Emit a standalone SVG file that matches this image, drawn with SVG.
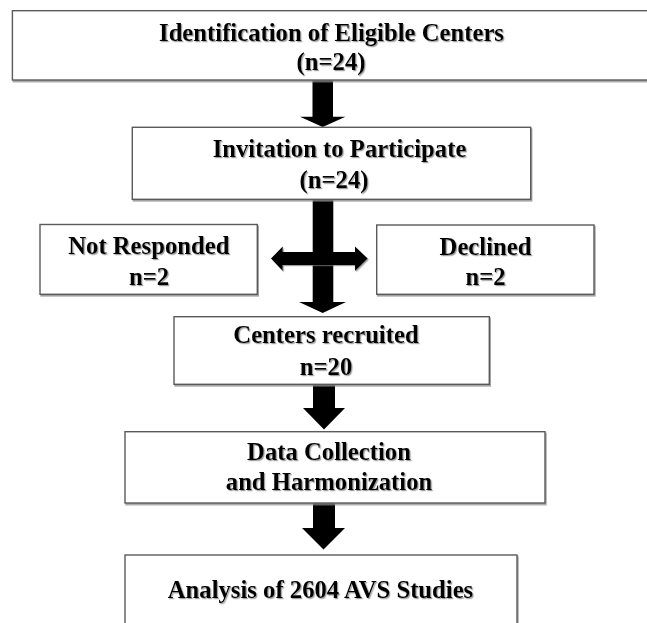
<svg xmlns="http://www.w3.org/2000/svg" width="647" height="623" viewBox="0 0 647 623">
<style>
  .box { fill: #ffffff; stroke: #5a5a5a; stroke-width: 1.4; filter: url(#boxShadow); }
  .lbl { font-family: "Liberation Serif", "Times New Roman", serif; font-weight: bold; font-size: 24.7px; fill: #000; text-anchor: middle; filter: url(#txtShadow); }
  .arrow { fill: #000; }
  .arrowS { fill: #000; filter: url(#txtShadow); }
</style>
<defs>
  <filter id="boxShadow" x="-5%" y="-10%" width="115%" height="130%">
    <feDropShadow dx="1" dy="1.6" stdDeviation="0.7" flood-color="#8a8a8a" flood-opacity="0.8"/>
  </filter>
  <filter id="txtShadow" x="-5%" y="-20%" width="115%" height="150%">
    <feDropShadow dx="1.2" dy="1.2" stdDeviation="0.6" flood-color="#777" flood-opacity="0.7"/>
  </filter>
</defs>
<rect width="647" height="623" fill="#ffffff"/>

<g id="connectors">
  <!-- Identification -> Invitation -->
  <polygon class="arrow" points="312.5,80 333,80 333,116.7 345.5,116.7 322.7,127 300,116.7 312.5,116.7"/>
  <!-- Invitation -> Centers recruited -->
  <polygon class="arrow" points="312.7,199 333.3,199 333.3,302 346,302 322.7,313 299,302 312.7,302"/>
  <!-- double arrow to Not Responded / Declined -->
  <polygon class="arrowS" points="271,258.5 282.7,246.5 282.7,252 355,252 355,246.5 367.7,258.5 355,271 355,265 282.7,265 282.7,271"/>
  <!-- Centers recruited -> Data Collection -->
  <polygon class="arrow" points="313,384 335,384 335,408 345,408 324,429.5 303,408 313,408"/>
  <!-- Data Collection -> Analysis -->
  <polygon class="arrow" points="313,503 335,503 335,528 345,528 323.5,549.5 302,528 313,528"/>
</g>

<g id="identification">
  <rect class="box" x="12.4" y="10.7" width="645" height="69.3"/>
  <text class="lbl" x="331.5" y="40.7">Identification of Eligible Centers</text>
  <text class="lbl" x="331" y="70">(n=24)</text>
</g>

<g id="invitation">
  <rect class="box" x="132.3" y="127.3" width="398.4" height="72"/>
  <text class="lbl" x="339.5" y="156.7">Invitation to Participate</text>
  <text class="lbl" x="334" y="188">(n=24)</text>
</g>

<g id="not-responded">
  <rect class="box" x="40" y="224.5" width="217.3" height="69.8"/>
  <text class="lbl" x="148.8" y="254.3">Not Responded</text>
  <text class="lbl" x="149" y="284.5">n=2</text>
</g>

<g id="declined">
  <rect class="box" x="376.7" y="225" width="217.3" height="69.3"/>
  <text class="lbl" x="485.5" y="255">Declined</text>
  <text class="lbl" x="485.5" y="285">n=2</text>
</g>

<g id="centers-recruited">
  <rect class="box" x="174" y="316.7" width="315.3" height="67.6"/>
  <text class="lbl" x="326" y="343">Centers recruited</text>
  <text class="lbl" x="326" y="375">n=20</text>
</g>

<g id="data-collection">
  <rect class="box" x="125" y="431.7" width="420" height="71.3"/>
  <text class="lbl" x="329" y="460">Data Collection</text>
  <text class="lbl" x="329" y="490">and Harmonization</text>
</g>

<g id="analysis">
  <rect class="box" x="125" y="555" width="392" height="90"/>
  <text class="lbl" x="320.5" y="598">Analysis of 2604 AVS Studies</text>
</g>
</svg>
